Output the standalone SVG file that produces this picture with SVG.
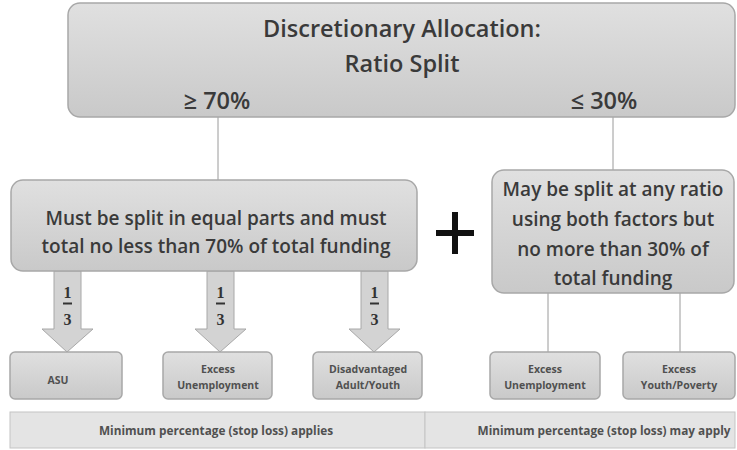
<svg xmlns="http://www.w3.org/2000/svg" width="737" height="450" viewBox="0 0 737 450">
<defs>
<linearGradient id="g" x1="0" y1="0" x2="0" y2="1">
<stop offset="0" stop-color="#e0e0e0"/>
<stop offset="1" stop-color="#c9c9c9"/>
</linearGradient>
<style>
.box{fill:url(#g);stroke:#a8a8a8;stroke-width:1.5}
.band{fill:#e4e4e4;stroke:#c4c4c4;stroke-width:1}
.t{font-family:"Open Sans","Liberation Sans",sans-serif;fill:#3a3a3a;text-anchor:middle;font-weight:600}
.big{font-size:23.5px}
.mid{font-size:19px}
.sm{font-size:10.5px;font-weight:bold;fill:#505050}
.bd{font-size:11.8px;font-weight:bold;fill:#505050}
.frac{font-family:"Liberation Serif",serif;font-weight:bold;font-size:16px;fill:#333;text-anchor:middle}
.ln{stroke:#9a9a9a;stroke-width:1;fill:none}
.arr{fill:#d3d3d3;stroke:#a8a8a8;stroke-width:1}
</style>
</defs>
<rect width="737" height="450" fill="#ffffff"/>

<g id="connectors">
<line class="ln" x1="218" y1="117" x2="218" y2="180"/>
<line class="ln" x1="613" y1="117" x2="613" y2="170"/>
<line class="ln" x1="548" y1="293" x2="548" y2="352"/>
<line class="ln" x1="680" y1="293" x2="680" y2="352"/>
<g id="arrow1">
<polygon class="arr" points="54,271 81,271 81,329 93,329 67,352 42,329 54,329"/>
<text class="frac" x="67.5" y="298">1</text>
<line x1="63" y1="303.5" x2="72" y2="303.5" stroke="#333" stroke-width="2"/>
<text class="frac" x="67.5" y="325">3</text>
</g>
<g id="arrow2">
<polygon class="arr" points="207,271 234,271 234,329 246,329 220,352 195,329 207,329"/>
<text class="frac" x="220.5" y="298">1</text>
<line x1="216" y1="303.5" x2="225" y2="303.5" stroke="#333" stroke-width="2"/>
<text class="frac" x="220.5" y="325">3</text>
</g>
<g id="arrow3">
<polygon class="arr" points="361,271 388,271 388,329 400,329 374,352 349,329 361,329"/>
<text class="frac" x="374.5" y="298">1</text>
<line x1="370" y1="303.5" x2="379" y2="303.5" stroke="#333" stroke-width="2"/>
<text class="frac" x="374.5" y="325">3</text>
</g>
</g>

<g id="top">
<rect class="box" x="68" y="3" width="667" height="114" rx="12"/>
<text class="t big" x="402" y="37">Discretionary Allocation:</text>
<text class="t big" x="402" y="72">Ratio Split</text>
<text class="t big" x="217" y="109">≥ 70%</text>
<text class="t big" x="604" y="109">≤ 30%</text>
</g>

<g id="left">
<rect class="box" x="11" y="180" width="406" height="91" rx="12"/>
<text class="t mid" x="216" y="225">Must be split in equal parts and must</text>
<text class="t mid" x="216" y="253">total no less than 70% of total funding</text>
</g>

<g id="plus">
<path d="M455,212 V254 M436,233 H474" stroke="#111" stroke-width="6" fill="none"/>
</g>

<g id="right">
<rect class="box" x="492" y="170" width="242" height="123" rx="12"/>
<text class="t mid" x="613" y="196">May be split at any ratio</text>
<text class="t mid" x="613" y="226">using both factors  but</text>
<text class="t mid" x="613" y="256">no more than 30% of</text>
<text class="t mid" x="613" y="285">total funding</text>
</g>

<g id="asu">
<rect class="box" x="10" y="352" width="112" height="47" rx="5"/>
<text class="t sm" x="58" y="384">ASU</text>
</g>
<g id="excess-unemp-1">
<rect class="box" x="163" y="352" width="109" height="47" rx="5"/>
<text class="t sm" x="218" y="373">Excess</text>
<text class="t sm" x="218" y="389">Unemployment</text>
</g>
<g id="disadv">
<rect class="box" x="313" y="352" width="109" height="47" rx="5"/>
<text class="t sm" x="368" y="373">Disadvantaged</text>
<text class="t sm" x="368" y="389">Adult/Youth</text>
</g>
<g id="excess-unemp-2">
<rect class="box" x="490" y="352" width="110" height="47" rx="5"/>
<text class="t sm" x="545" y="373">Excess</text>
<text class="t sm" x="545" y="389">Unemployment</text>
</g>
<g id="excess-youth">
<rect class="box" x="623" y="352" width="112" height="47" rx="5"/>
<text class="t sm" x="679" y="373">Excess</text>
<text class="t sm" x="679" y="389">Youth/Poverty</text>
</g>

<g id="band-left">
<rect class="band" x="10" y="412" width="415" height="36"/>
<text class="t bd" x="216" y="435">Minimum percentage (stop loss) applies</text>
</g>
<g id="band-right">
<rect class="band" x="425" y="412" width="310" height="36"/>
<text class="t bd" x="604" y="435">Minimum percentage (stop loss) may apply</text>
</g>
</svg>
